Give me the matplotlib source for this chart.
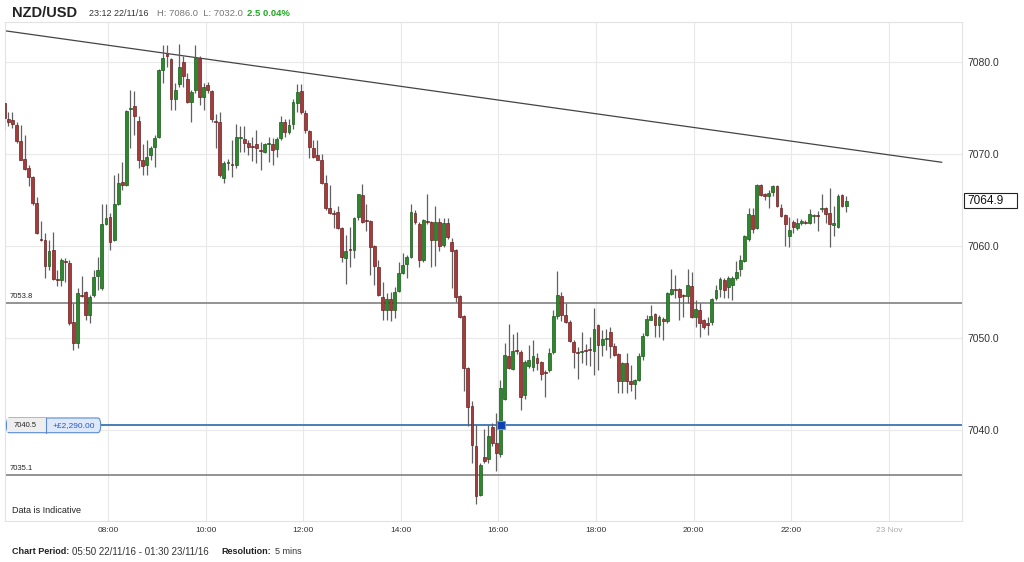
import matplotlib
matplotlib.use("Agg")
import matplotlib.pyplot as plt
from matplotlib.patches import Rectangle, FancyBboxPatch
import numpy as np
import pandas as pd

plt.rcParams['font.family'] = ['Liberation Sans', 'DejaVu Sans']

# 5-minute NZD/USD candles, 22/11/16 from 05:50
start = '2016-11-22 05:50'
opens = [
    7075.5, 7073.8, 7073.7, 7073.1, 7071.4, 7069.5, 7068.5, 7067.5, 7064.7, 7060.7, 7060.7, 7057.8, 7059.6,
    7056.4, 7056.3, 7058.4, 7058.1, 7051.7, 7049.4, 7054.7, 7055.0, 7052.5, 7054.7, 7056.7, 7055.4, 7062.4,
    7063.2, 7060.6, 7064.6, 7067.0, 7066.6, 7074.9, 7075.2, 7073.6, 7069.3, 7068.8, 7069.9, 7070.8, 7071.8,
    7079.1, 7080.8, 7080.3, 7076.0, 7077.6, 7080.0, 7078.2, 7075.7, 7077.0, 7080.4, 7076.2, 7077.5, 7076.9,
    7073.6, 7073.5, 7067.4, 7069.0, 7068.9, 7068.8, 7071.7, 7071.6, 7071.2, 7070.9, 7071.1, 7070.4, 7070.2,
    7071.1, 7071.1, 7070.5, 7071.7, 7073.5, 7072.4, 7073.3, 7075.5, 7076.8, 7074.5, 7072.5, 7070.6, 7069.9,
    7069.4, 7066.8, 7064.1, 7063.6, 7063.7, 7062.0, 7058.7, 7059.7, 7059.6, 7063.2, 7065.5, 7062.8, 7062.7,
    7060.0, 7057.7, 7054.5, 7053.0, 7054.2, 7053.0, 7055.1, 7057.1, 7058.0, 7058.8, 7063.6, 7062.4, 7058.5,
    7062.7, 7062.6, 7060.6, 7062.6, 7060.1, 7062.5, 7060.4, 7059.6, 7054.6, 7052.4, 7046.7, 7042.6, 7038.2,
    7032.9, 7037.1, 7036.8, 7040.3, 7038.6, 7037.4, 7043.4, 7048.0, 7046.6, 7048.7, 7048.5, 7043.8, 7047.0,
    7046.8, 7047.8, 7047.4, 7046.3, 7046.5, 7048.5, 7052.4, 7054.6, 7052.5, 7051.7, 7049.6, 7048.5, 7048.5,
    7048.7, 7048.8, 7048.6, 7051.4, 7049.2, 7049.9, 7050.7, 7049.1, 7048.3, 7045.3, 7047.3, 7045.3, 7045.0,
    7045.4, 7048.0, 7050.3, 7052.0, 7052.6, 7051.4, 7052.1, 7051.8, 7054.8, 7055.3, 7055.3, 7054.7, 7054.6,
    7055.6, 7052.3, 7053.0, 7052.0, 7051.6, 7051.7, 7054.3, 7055.3, 7056.3, 7055.5, 7055.8, 7056.5, 7057.5,
    7058.4, 7060.8, 7063.4, 7062.0, 7066.6, 7065.6, 7065.4, 7065.9, 7066.5, 7064.1, 7063.4, 7061.1, 7062.6,
    7061.9, 7062.5, 7062.6, 7062.5, 7063.3, 7063.4, 7064.0, 7064.1, 7063.6, 7062.3, 7062.1, 7065.5, 7064.4,
]
highs = [
    7075.7, 7074.6, 7074.6, 7073.5, 7073.2, 7072.1, 7068.8, 7067.6, 7065.3, 7062.7, 7061.4, 7060.7, 7061.5,
    7057.4, 7058.7, 7058.7, 7058.5, 7053.8, 7055.4, 7056.7, 7055.1, 7054.7, 7057.4, 7058.8, 7064.6, 7064.6,
    7063.6, 7067.7, 7067.9, 7069.1, 7074.8, 7077.0, 7076.8, 7074.1, 7071.1, 7071.5, 7070.9, 7072.1, 7079.2,
    7081.9, 7081.9, 7080.4, 7077.7, 7082.0, 7080.6, 7078.8, 7077.0, 7081.9, 7080.6, 7077.7, 7077.8, 7077.0,
    7074.4, 7074.6, 7069.2, 7069.5, 7071.5, 7073.3, 7073.0, 7073.0, 7071.5, 7071.8, 7072.6, 7071.3, 7071.2,
    7071.8, 7071.7, 7071.9, 7074.1, 7073.8, 7073.8, 7076.0, 7077.6, 7077.6, 7074.8, 7072.6, 7071.5, 7071.5,
    7070.0, 7067.7, 7066.6, 7063.9, 7064.3, 7062.1, 7061.2, 7062.1, 7063.2, 7065.7, 7066.7, 7064.6, 7062.8,
    7060.1, 7058.5, 7056.1, 7054.9, 7055.0, 7055.5, 7058.3, 7059.2, 7059.0, 7064.6, 7063.9, 7062.6, 7062.9,
    7065.7, 7062.7, 7064.3, 7063.0, 7063.0, 7063.0, 7060.9, 7059.7, 7054.7, 7052.5, 7046.8, 7043.1, 7040.5,
    7036.4, 7040.1, 7040.5, 7040.7, 7041.8, 7045.4, 7049.4, 7051.5, 7050.4, 7050.6, 7048.7, 7047.6, 7049.2,
    7049.8, 7048.4, 7047.5, 7046.5, 7048.9, 7053.0, 7057.3, 7055.0, 7053.8, 7051.9, 7049.8, 7049.0, 7050.6,
    7049.3, 7050.1, 7053.3, 7051.5, 7050.9, 7051.0, 7051.2, 7049.5, 7048.4, 7047.4, 7048.4, 7047.1, 7045.5,
    7048.4, 7050.5, 7052.5, 7053.6, 7052.7, 7052.5, 7052.3, 7055.0, 7057.5, 7056.8, 7055.4, 7054.8, 7057.5,
    7057.2, 7054.1, 7053.8, 7052.1, 7052.3, 7054.3, 7055.8, 7056.6, 7056.5, 7056.7, 7056.7, 7058.4, 7059.0,
    7061.2, 7064.1, 7064.1, 7066.7, 7066.7, 7065.8, 7066.1, 7066.6, 7066.6, 7064.6, 7063.5, 7063.2, 7062.8,
    7063.0, 7062.9, 7062.8, 7064.0, 7063.5, 7063.8, 7065.6, 7064.2, 7066.3, 7064.3, 7065.7, 7065.7, 7065.4,
]
lows = [
    7072.6, 7073.0, 7072.8, 7071.2, 7069.3, 7068.3, 7066.5, 7064.5, 7061.3, 7060.5, 7056.5, 7057.4, 7056.3,
    7055.6, 7055.6, 7056.1, 7051.4, 7048.7, 7048.9, 7054.5, 7052.0, 7051.6, 7054.5, 7055.2, 7055.2, 7062.3,
    7059.6, 7060.5, 7064.5, 7066.1, 7066.5, 7070.6, 7072.1, 7068.5, 7067.7, 7067.7, 7069.4, 7068.6, 7071.7,
    7077.7, 7079.5, 7074.8, 7074.8, 7077.3, 7077.3, 7075.5, 7073.5, 7076.6, 7075.3, 7074.8, 7076.6, 7073.5,
    7070.6, 7067.5, 7066.9, 7068.3, 7067.5, 7068.5, 7070.2, 7070.2, 7069.9, 7069.2, 7069.0, 7068.3, 7070.1,
    7069.1, 7068.8, 7069.7, 7071.5, 7071.9, 7072.2, 7072.7, 7074.6, 7074.4, 7072.3, 7069.6, 7069.6, 7069.3,
    7066.7, 7063.9, 7063.5, 7061.9, 7061.8, 7058.3, 7055.9, 7057.7, 7058.7, 7062.8, 7062.5, 7061.6, 7056.8,
    7055.8, 7054.6, 7051.9, 7052.0, 7051.8, 7052.2, 7055.0, 7057.0, 7056.5, 7058.7, 7062.4, 7057.7, 7058.3,
    7062.4, 7057.7, 7057.8, 7059.4, 7059.9, 7060.8, 7055.4, 7053.9, 7052.2, 7044.2, 7040.4, 7036.4, 7032.0,
    7032.8, 7036.4, 7036.4, 7038.2, 7035.5, 7037.1, 7043.3, 7046.6, 7046.5, 7048.3, 7042.2, 7043.4, 7046.7,
    7046.4, 7046.5, 7045.4, 7043.6, 7046.3, 7048.3, 7052.1, 7051.8, 7051.6, 7049.6, 7046.7, 7045.5, 7047.3,
    7047.1, 7047.0, 7046.0, 7046.5, 7048.0, 7048.7, 7047.8, 7048.0, 7044.0, 7044.0, 7044.0, 7044.2, 7043.4,
    7045.3, 7047.6, 7050.2, 7051.9, 7050.1, 7050.1, 7049.8, 7051.6, 7054.7, 7054.3, 7052.0, 7052.3, 7053.8,
    7052.2, 7051.2, 7050.1, 7051.0, 7050.3, 7051.4, 7054.1, 7054.4, 7054.3, 7054.3, 7054.1, 7056.3, 7056.7,
    7058.3, 7060.5, 7061.4, 7061.8, 7065.4, 7065.0, 7064.1, 7065.4, 7064.2, 7063.1, 7060.0, 7059.9, 7061.4,
    7061.7, 7062.3, 7062.4, 7062.4, 7062.5, 7061.6, 7063.7, 7062.5, 7059.9, 7061.1, 7061.9, 7064.2, 7063.7,
]
closes = [
    7073.9, 7073.5, 7073.3, 7071.4, 7069.4, 7068.4, 7067.5, 7064.7, 7061.4, 7060.6, 7057.8, 7059.5, 7056.4,
    7056.3, 7058.5, 7058.3, 7051.6, 7049.4, 7054.9, 7054.6, 7052.5, 7054.5, 7056.6, 7057.4, 7062.4, 7063.0,
    7060.4, 7064.6, 7066.8, 7066.6, 7074.7, 7075.0, 7074.1, 7069.4, 7068.7, 7069.7, 7070.6, 7071.7, 7079.1,
    7080.4, 7080.7, 7076.0, 7077.0, 7079.5, 7078.5, 7075.7, 7076.7, 7080.4, 7076.2, 7077.3, 7077.0, 7073.8,
    7073.5, 7067.7, 7069.0, 7069.1, 7068.8, 7071.8, 7071.8, 7071.2, 7070.8, 7070.8, 7070.6, 7070.3, 7071.1,
    7071.2, 7070.4, 7071.6, 7073.5, 7072.4, 7073.2, 7075.6, 7076.7, 7074.6, 7072.6, 7070.8, 7069.7, 7069.4,
    7066.8, 7064.1, 7063.6, 7063.5, 7061.9, 7058.8, 7059.5, 7059.6, 7063.0, 7065.6, 7062.6, 7062.7, 7059.9,
    7057.8, 7054.7, 7053.0, 7054.2, 7053.0, 7055.0, 7057.1, 7057.9, 7058.8, 7063.7, 7062.6, 7058.5, 7062.8,
    7062.6, 7060.6, 7062.6, 7060.0, 7062.5, 7061.0, 7059.5, 7054.5, 7052.3, 7046.7, 7042.5, 7038.4, 7032.8,
    7036.2, 7036.6, 7039.3, 7038.6, 7037.5, 7044.6, 7048.1, 7046.7, 7048.6, 7048.6, 7043.6, 7047.4, 7047.6,
    7048.0, 7047.3, 7046.1, 7046.2, 7048.4, 7052.4, 7054.7, 7052.5, 7051.7, 7049.7, 7048.5, 7048.4, 7048.6,
    7048.6, 7048.7, 7051.0, 7049.2, 7049.9, 7050.0, 7049.1, 7048.2, 7045.3, 7047.3, 7045.3, 7045.0, 7045.4,
    7048.0, 7050.2, 7052.1, 7052.4, 7051.4, 7052.3, 7051.8, 7054.9, 7055.3, 7055.2, 7054.4, 7054.6, 7055.8,
    7052.3, 7053.1, 7051.6, 7051.2, 7051.4, 7054.2, 7055.2, 7056.4, 7055.2, 7056.5, 7056.5, 7057.2, 7058.5,
    7061.1, 7063.5, 7061.8, 7066.6, 7065.5, 7065.4, 7065.8, 7066.5, 7064.3, 7063.3, 7062.4, 7061.7, 7062.1,
    7062.5, 7062.7, 7062.5, 7063.5, 7063.4, 7063.3, 7064.1, 7063.5, 7062.4, 7062.5, 7065.4, 7064.3, 7064.9,
]

# chart annotations
levels = [7053.8, 7035.1]
position_level = 7040.5
position_pnl = '+£2,290.00'
last_price = 7064.9
trend_times = ['2016-11-22 05:53', '2016-11-23 01:05']
trend_values = [7083.4, 7069.1]
hour_ticks = [8, 10, 12, 14, 16, 18, 20, 22, 24]
hour_labels = ['08:00', '10:00', '12:00', '14:00', '16:00', '18:00', '20:00', '22:00', '23 Nov']
price_ticks = [7040, 7050, 7060, 7070, 7080]

day0 = pd.Timestamp('2016-11-22')


def to_hours(ts):
    return (pd.to_datetime(ts) - day0) / pd.Timedelta(hours=1)


times = pd.date_range(start, periods=len(opens), freq='5min')
x = np.asarray(to_hours(times)) + 2.5 / 60

o = np.array(opens)
h = np.array(highs)
l = np.array(lows)
c = np.array(closes)

W, H = 1024, 562
fig = plt.figure(figsize=(W / 100, H / 100), dpi=100)
ax = fig.add_axes([5 / W, (H - 521) / H, 957 / W, 499 / H])
ytrans = ax.get_yaxis_transform()

# grid
for t in hour_ticks:
    ax.axvline(t, color='#e9e9e9', lw=0.8, zorder=0)
for p in price_ticks:
    ax.axhline(p, color='#e9e9e9', lw=0.8, zorder=0)

# levels
for lv in levels:
    ax.axhline(lv, color='#8a8a8a', lw=1.3, zorder=1)
ax.axhline(position_level, xmin=0.1, color='#4a7fb5', lw=1.4, zorder=1)

# trend line
ax.plot(to_hours(trend_times), trend_values, color='#444444', lw=0.9, zorder=2)

# candles
up = c >= o
ax.vlines(x, l, h, color='#606060', lw=0.9, zorder=3)
body_w = 0.058
bottoms = np.minimum(o, c)
heights = np.maximum(np.abs(c - o), 0.12)
ax.bar(x[up], heights[up], body_w, bottom=bottoms[up], color='#2d872d',
       edgecolor='#1c5a1c', lw=0.5, zorder=4)
ax.bar(x[~up], heights[~up], body_w, bottom=bottoms[~up], color='#a53b3b',
       edgecolor='#6a2222', lw=0.5, zorder=4)

# position marker
ax.plot([16.06], [position_level], marker='s', ms=6, color='#1040b0',
        mec='#6f9ad6', mew=0.8, zorder=6)

ax.set_xlim(5.889, 25.5)
ax.set_ylim(7030.1, 7084.35)

ax.set_xticks(hour_ticks)
ax.set_xticklabels(hour_labels, fontsize=6, color='#333333')
ax.get_xticklabels()[-1].set_color('#aaaaaa')
ax.yaxis.tick_right()
ax.set_yticks(price_ticks)
ax.set_yticklabels(['%.1f' % p for p in price_ticks], fontsize=7.5, color='#333333')
ax.tick_params(length=0, pad=4)
for s in ax.spines.values():
    s.set_color('#e2e2e2')
    s.set_linewidth(0.8)

# last price box
ax.add_patch(Rectangle((1.0021, last_price - 0.82), 0.0554, 1.64, transform=ytrans,
                       fc='white', ec='#222222', lw=0.8, clip_on=False, zorder=8))
ax.text(1.0055, last_price, '%.1f' % last_price, transform=ytrans,
        fontsize=8.5, color='#111111', va='center', ha='left', zorder=9, clip_on=False)

# level labels
for lv in levels:
    ax.text(0.005, lv + 0.35, '%.1f' % lv, transform=ytrans,
            fontsize=5.5, color='#222222', va='bottom', ha='left')

# position box
ax.add_patch(FancyBboxPatch((0.0015, position_level - 0.8), 0.0985, 1.6,
                            boxstyle='round,pad=0,rounding_size=0.003', transform=ytrans,
                            fc='#dde9fb', ec='#5a8ad0', lw=0.8, zorder=7, mutation_aspect=260))
ax.add_patch(Rectangle((0.002, position_level - 0.75), 0.0405, 1.5, transform=ytrans,
                       fc='#eeeeee', ec='none', zorder=7.5))
ax.plot([0.0425, 0.0425], [position_level - 0.8, position_level + 0.8], transform=ytrans,
        color='#5a8ad0', lw=0.8, zorder=7.6)
ax.text(0.0215, position_level, '%.1f' % position_level, transform=ytrans,
        fontsize=5.4, color='#222222', va='center', ha='center', zorder=8)
ax.text(0.0715, position_level, position_pnl, transform=ytrans,
        fontsize=6, color='#2a55c0', va='center', ha='center', zorder=8)

ax.text(0.007, 0.012, 'Data is Indicative', transform=ax.transAxes, fontsize=6.5,
        color='#222222', va='bottom', ha='left')


def px(xp, yp):
    return xp / W, 1 - yp / H


# header
fig.text(*px(12, 13), 'NZD/USD', fontsize=10.5, fontweight='bold', color='#222222', va='center')
fig.text(*px(89, 13.5), '23:12 22/11/16', fontsize=6.5, color='#333333', va='center')
fig.text(*px(157, 13.5), 'H: 7086.0  L: 7032.0', fontsize=6.8, color='#777777', va='center')
fig.text(*px(247, 13.5), '2.5 0.04%', fontsize=6.8, fontweight='bold', color='#22aa22', va='center')

# footer
fig.text(*px(12.5, 552), 'Chart Period:', fontsize=6.5, fontweight='bold', color='#222222', va='center')
fig.text(*px(72.5, 552), '05:50 22/11/16 - 01:30 23/11/16', fontsize=7.0, color='#333333', va='center')
fig.text(*px(221.5, 552), 'Resolution:', fontsize=6.5, fontweight='bold', color='#222222', va='center')
fig.text(*px(275, 552), '5 mins', fontsize=6.5, color='#333333', va='center')

fig.savefig('out.png', dpi=100)
